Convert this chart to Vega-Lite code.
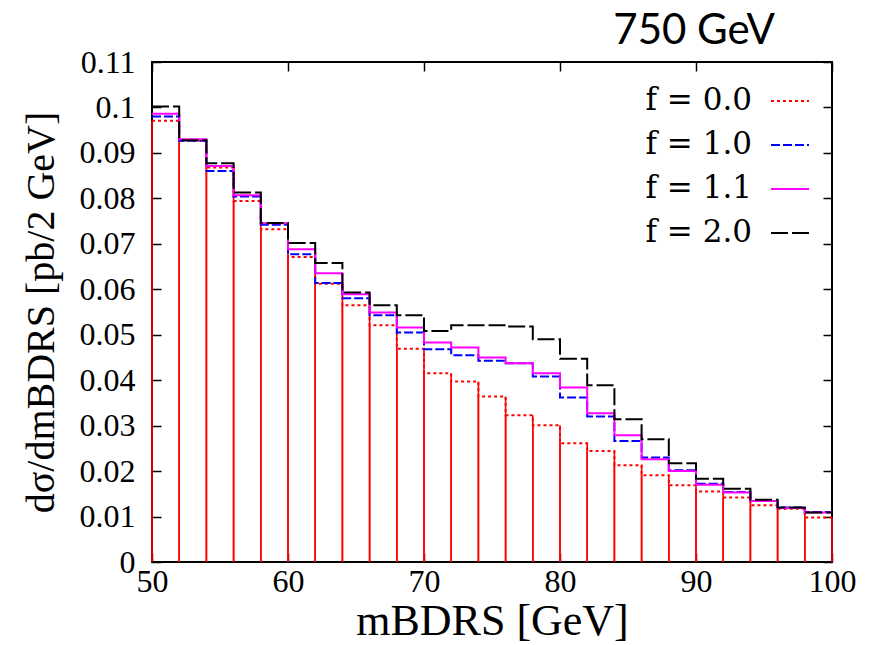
{
  "$schema": "https://vega.github.io/schema/vega-lite/v6.json",
  "autosize": {"type": "none"},
  "width": 680,
  "height": 500,
  "padding": {"left": 152, "top": 62, "right": 44, "bottom": 83},
  "background": "white",
  "title": {"text": "750 GeV", "font": "Lato", "fontSize": 42, "fontWeight": "normal", "color": "black", "anchor": "end", "frame": "group", "dx": -57, "offset": -7},
  "config": {
    "view": {"stroke": "black", "strokeWidth": 2},
    "axis": {"grid": false, "domain": false, "tickColor": "black", "tickWidth": 1.5, "tickSize": -9, "labelColor": "black", "labelFont": "Liberation Serif", "labelFontSize": 32, "labelFlush": false, "titleFont": "Liberation Serif", "titleFontWeight": "normal", "titleColor": "black"},
    "legend": {"labelFont": "DejaVu Serif", "labelFontSize": 31, "labelColor": "black", "labelAlign": "right", "labelOffset": -58, "symbolType": "stroke", "symbolSize": 1444, "symbolStrokeWidth": 2, "rowPadding": 9, "padding": 0, "offset": 19, "orient": "top-right", "title": null}
  },
  "datasets": {
    "h": [
      {"f": "f = 0.0", "lo": 50, "hi": 52, "v": 0.0971}, {"f": "f = 1.0", "lo": 50, "hi": 52, "v": 0.0980}, {"f": "f = 1.1", "lo": 50, "hi": 52, "v": 0.0986}, {"f": "f = 2.0", "lo": 50, "hi": 52, "v": 0.1002},
      {"f": "f = 0.0", "lo": 52, "hi": 54, "v": 0.0927}, {"f": "f = 1.0", "lo": 52, "hi": 54, "v": 0.0927}, {"f": "f = 1.1", "lo": 52, "hi": 54, "v": 0.0930}, {"f": "f = 2.0", "lo": 52, "hi": 54, "v": 0.0928},
      {"f": "f = 0.0", "lo": 54, "hi": 56, "v": 0.0868}, {"f": "f = 1.0", "lo": 54, "hi": 56, "v": 0.0860}, {"f": "f = 1.1", "lo": 54, "hi": 56, "v": 0.0871}, {"f": "f = 2.0", "lo": 54, "hi": 56, "v": 0.0877},
      {"f": "f = 0.0", "lo": 56, "hi": 58, "v": 0.0794}, {"f": "f = 1.0", "lo": 56, "hi": 58, "v": 0.0804}, {"f": "f = 1.1", "lo": 56, "hi": 58, "v": 0.0807}, {"f": "f = 2.0", "lo": 56, "hi": 58, "v": 0.0813},
      {"f": "f = 0.0", "lo": 58, "hi": 60, "v": 0.0732}, {"f": "f = 1.0", "lo": 58, "hi": 60, "v": 0.0742}, {"f": "f = 1.1", "lo": 58, "hi": 60, "v": 0.0745}, {"f": "f = 2.0", "lo": 58, "hi": 60, "v": 0.0746},
      {"f": "f = 0.0", "lo": 60, "hi": 62, "v": 0.0671}, {"f": "f = 1.0", "lo": 60, "hi": 62, "v": 0.0677}, {"f": "f = 1.1", "lo": 60, "hi": 62, "v": 0.0688}, {"f": "f = 2.0", "lo": 60, "hi": 62, "v": 0.0702},
      {"f": "f = 0.0", "lo": 62, "hi": 64, "v": 0.0612}, {"f": "f = 1.0", "lo": 62, "hi": 64, "v": 0.0614}, {"f": "f = 1.1", "lo": 62, "hi": 64, "v": 0.0635}, {"f": "f = 2.0", "lo": 62, "hi": 64, "v": 0.0658},
      {"f": "f = 0.0", "lo": 64, "hi": 66, "v": 0.0565}, {"f": "f = 1.0", "lo": 64, "hi": 66, "v": 0.0580}, {"f": "f = 1.1", "lo": 64, "hi": 66, "v": 0.0589}, {"f": "f = 2.0", "lo": 64, "hi": 66, "v": 0.0593},
      {"f": "f = 0.0", "lo": 66, "hi": 68, "v": 0.0521}, {"f": "f = 1.0", "lo": 66, "hi": 68, "v": 0.0543}, {"f": "f = 1.1", "lo": 66, "hi": 68, "v": 0.0549}, {"f": "f = 2.0", "lo": 66, "hi": 68, "v": 0.0565},
      {"f": "f = 0.0", "lo": 68, "hi": 70, "v": 0.0469}, {"f": "f = 1.0", "lo": 68, "hi": 70, "v": 0.0505}, {"f": "f = 1.1", "lo": 68, "hi": 70, "v": 0.0516}, {"f": "f = 2.0", "lo": 68, "hi": 70, "v": 0.0543},
      {"f": "f = 0.0", "lo": 70, "hi": 72, "v": 0.0415}, {"f": "f = 1.0", "lo": 70, "hi": 72, "v": 0.0468}, {"f": "f = 1.1", "lo": 70, "hi": 72, "v": 0.0483}, {"f": "f = 2.0", "lo": 70, "hi": 72, "v": 0.0508},
      {"f": "f = 0.0", "lo": 72, "hi": 74, "v": 0.0397}, {"f": "f = 1.0", "lo": 72, "hi": 74, "v": 0.0455}, {"f": "f = 1.1", "lo": 72, "hi": 74, "v": 0.0472}, {"f": "f = 2.0", "lo": 72, "hi": 74, "v": 0.0521},
      {"f": "f = 0.0", "lo": 74, "hi": 76, "v": 0.0364}, {"f": "f = 1.0", "lo": 74, "hi": 76, "v": 0.0443}, {"f": "f = 1.1", "lo": 74, "hi": 76, "v": 0.0450}, {"f": "f = 2.0", "lo": 74, "hi": 76, "v": 0.0521},
      {"f": "f = 0.0", "lo": 76, "hi": 78, "v": 0.0323}, {"f": "f = 1.0", "lo": 76, "hi": 78, "v": 0.0437}, {"f": "f = 1.1", "lo": 76, "hi": 78, "v": 0.0437}, {"f": "f = 2.0", "lo": 76, "hi": 78, "v": 0.0518},
      {"f": "f = 0.0", "lo": 78, "hi": 80, "v": 0.0301}, {"f": "f = 1.0", "lo": 78, "hi": 80, "v": 0.0408}, {"f": "f = 1.1", "lo": 78, "hi": 80, "v": 0.0415}, {"f": "f = 2.0", "lo": 78, "hi": 80, "v": 0.0490},
      {"f": "f = 0.0", "lo": 80, "hi": 82, "v": 0.0261}, {"f": "f = 1.0", "lo": 80, "hi": 82, "v": 0.0362}, {"f": "f = 1.1", "lo": 80, "hi": 82, "v": 0.0384}, {"f": "f = 2.0", "lo": 80, "hi": 82, "v": 0.0447},
      {"f": "f = 0.0", "lo": 82, "hi": 84, "v": 0.0244}, {"f": "f = 1.0", "lo": 82, "hi": 84, "v": 0.0320}, {"f": "f = 1.1", "lo": 82, "hi": 84, "v": 0.0327}, {"f": "f = 2.0", "lo": 82, "hi": 84, "v": 0.0389},
      {"f": "f = 0.0", "lo": 84, "hi": 86, "v": 0.0213}, {"f": "f = 1.0", "lo": 84, "hi": 86, "v": 0.0266}, {"f": "f = 1.1", "lo": 84, "hi": 86, "v": 0.0279}, {"f": "f = 2.0", "lo": 84, "hi": 86, "v": 0.0314},
      {"f": "f = 0.0", "lo": 86, "hi": 88, "v": 0.0191}, {"f": "f = 1.0", "lo": 86, "hi": 88, "v": 0.0230}, {"f": "f = 1.1", "lo": 86, "hi": 88, "v": 0.0226}, {"f": "f = 2.0", "lo": 86, "hi": 88, "v": 0.0270},
      {"f": "f = 0.0", "lo": 88, "hi": 90, "v": 0.0169}, {"f": "f = 1.0", "lo": 88, "hi": 90, "v": 0.0202}, {"f": "f = 1.1", "lo": 88, "hi": 90, "v": 0.0200}, {"f": "f = 2.0", "lo": 88, "hi": 90, "v": 0.0217},
      {"f": "f = 0.0", "lo": 90, "hi": 92, "v": 0.0155}, {"f": "f = 1.0", "lo": 90, "hi": 92, "v": 0.0172}, {"f": "f = 1.1", "lo": 90, "hi": 92, "v": 0.0170}, {"f": "f = 2.0", "lo": 90, "hi": 92, "v": 0.0183},
      {"f": "f = 0.0", "lo": 92, "hi": 94, "v": 0.0142}, {"f": "f = 1.0", "lo": 92, "hi": 94, "v": 0.0154}, {"f": "f = 1.1", "lo": 92, "hi": 94, "v": 0.0153}, {"f": "f = 2.0", "lo": 92, "hi": 94, "v": 0.0161},
      {"f": "f = 0.0", "lo": 94, "hi": 96, "v": 0.0125}, {"f": "f = 1.0", "lo": 94, "hi": 96, "v": 0.0134}, {"f": "f = 1.1", "lo": 94, "hi": 96, "v": 0.0134}, {"f": "f = 2.0", "lo": 94, "hi": 96, "v": 0.0137},
      {"f": "f = 0.0", "lo": 96, "hi": 98, "v": 0.0117}, {"f": "f = 1.0", "lo": 96, "hi": 98, "v": 0.0120}, {"f": "f = 1.1", "lo": 96, "hi": 98, "v": 0.0119}, {"f": "f = 2.0", "lo": 96, "hi": 98, "v": 0.0120},
      {"f": "f = 0.0", "lo": 98, "hi": 100, "v": 0.0098}, {"f": "f = 1.0", "lo": 98, "hi": 100, "v": 0.0110}, {"f": "f = 1.1", "lo": 98, "hi": 100, "v": 0.0109}, {"f": "f = 2.0", "lo": 98, "hi": 100, "v": 0.0109}
    ]
  },
  "data": {"name": "h"},
  "resolve": {"axis": {"x": "independent", "y": "independent"}},
  "layer": [
    {
      "transform": [{"filter": "datum.f === 'f = 0.0'"}],
      "mark": {"type": "rule", "color": "#ff0000", "strokeWidth": 1.6},
      "encoding": {
        "x": {"field": "lo", "type": "quantitative", "scale": {"domain": [50, 100], "nice": false, "zero": false},
              "axis": {"orient": "bottom", "values": [50, 60, 70, 80, 90, 100], "labelPadding": 13, "title": "mBDRS [GeV]", "titleFontSize": 44, "titlePadding": 2}},
        "y": {"field": "v", "type": "quantitative", "scale": {"domain": [0, 0.11], "nice": false},
              "axis": {"orient": "left", "values": [0, 0.01, 0.02, 0.03, 0.04, 0.05, 0.06, 0.07, 0.08, 0.09, 0.1, 0.11], "format": "~g", "labelPadding": 26, "title": "dσ/dmBDRS [pb/2 GeV]", "titleFontSize": 40, "titlePadding": 18}},
        "y2": {"datum": 0}
      }
    },
    {
      "transform": [{"filter": "datum.f === 'f = 0.0'"}],
      "mark": {"type": "rule", "color": "#ff0000", "strokeWidth": 1.6},
      "encoding": {
        "x": {"field": "hi", "type": "quantitative",
              "axis": {"orient": "top", "values": [50, 60, 70, 80, 90, 100], "labels": false, "title": null}},
        "y": {"field": "v", "type": "quantitative",
              "axis": {"orient": "right", "values": [0, 0.01, 0.02, 0.03, 0.04, 0.05, 0.06, 0.07, 0.08, 0.09, 0.1, 0.11], "labels": false, "title": null}},
        "y2": {"datum": 0}
      }
    },
    {
      "transform": [{"fold": ["lo", "hi"], "as": ["edge", "x"]}],
      "mark": {"type": "line", "strokeWidth": 2, "interpolate": "linear"},
      "encoding": {
        "x": {"field": "x", "type": "quantitative", "axis": null},
        "y": {"field": "v", "type": "quantitative", "axis": null},
        "color": {"field": "f", "type": "nominal", "scale": {"domain": ["f = 0.0", "f = 1.0", "f = 1.1", "f = 2.0"], "range": ["#ff0000", "#0000ff", "#ff00ff", "#000000"]}},
        "strokeDash": {"field": "f", "type": "nominal", "scale": {"domain": ["f = 0.0", "f = 1.0", "f = 1.1", "f = 2.0"], "range": [[3, 3], [9, 3], [1, 0], [17, 4]]}},
        "order": [{"field": "lo", "type": "quantitative", "sort": "ascending"}, {"field": "edge", "type": "nominal", "sort": "descending"}]
      }
    }
  ]
}
